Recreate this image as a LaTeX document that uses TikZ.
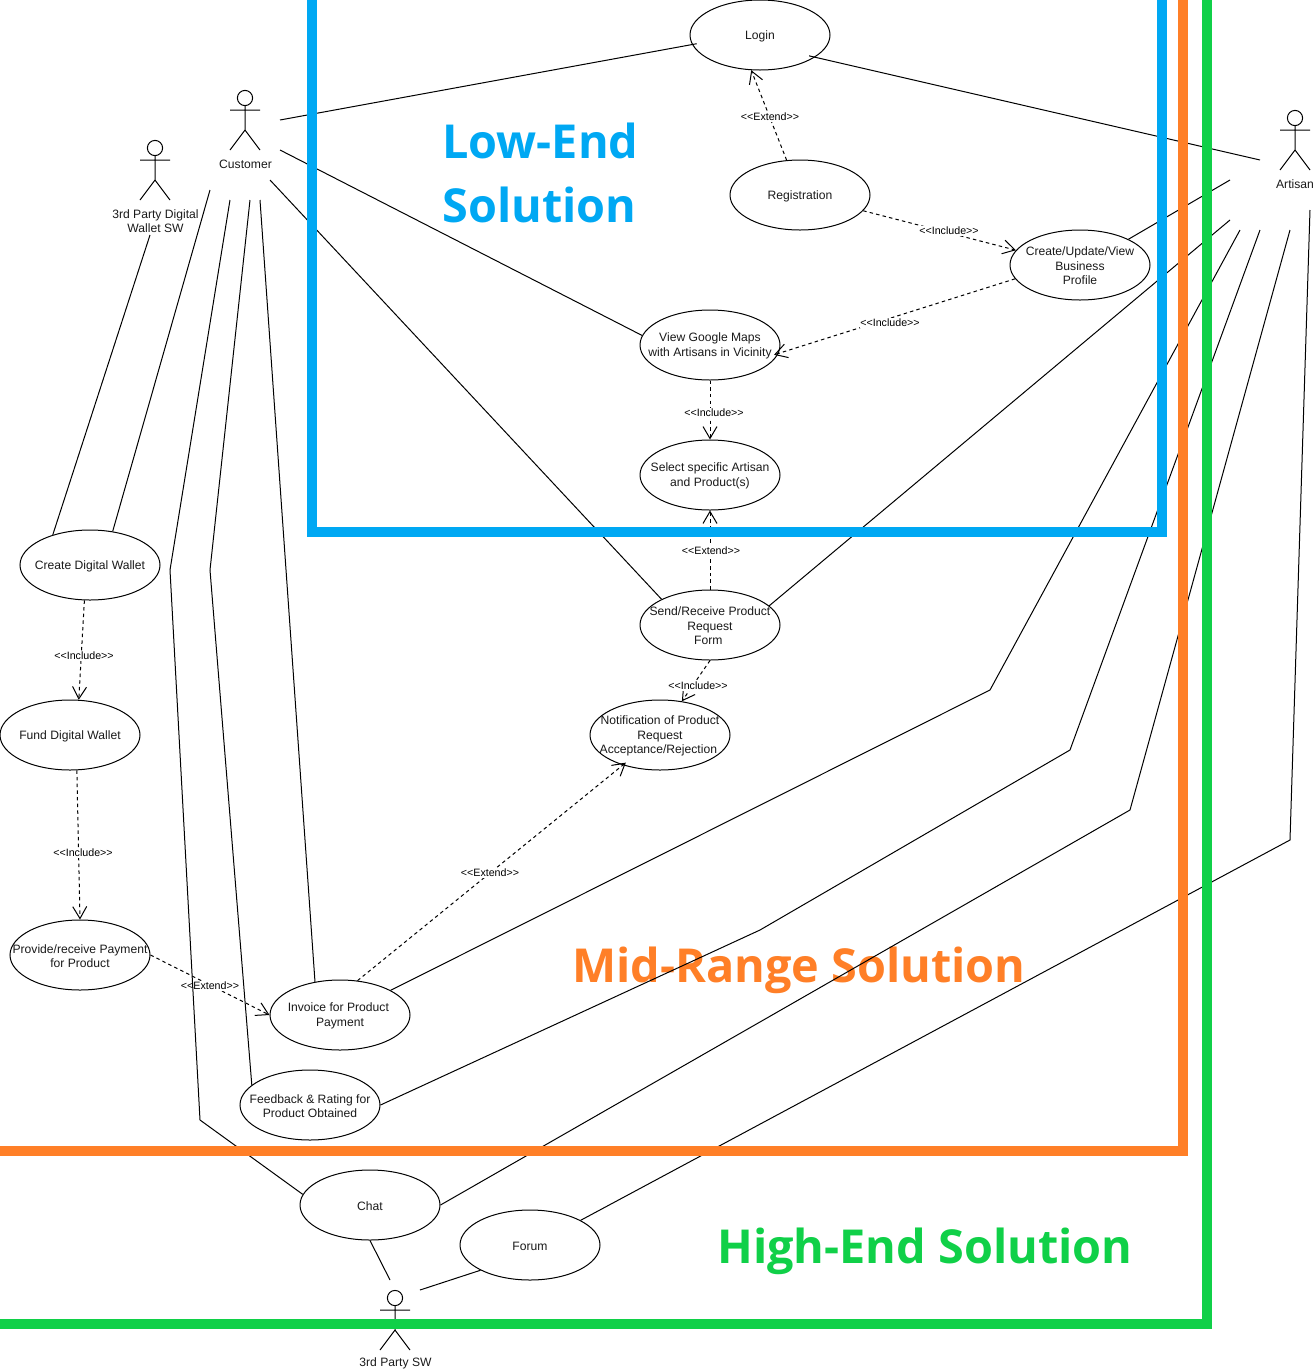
\documentclass[tikz,border=0pt]{standalone}
\usepackage{fontspec}
\setmainfont{Liberation Sans}
\newfontfamily\bigfont{Open Sans}
\usetikzlibrary{arrows.meta,shapes.geometric}
\definecolor{lowc}{HTML}{00A8F3}
\definecolor{midc}{HTML}{FF7F27}
\definecolor{highc}{HTML}{10D048}
\definecolor{txtc}{HTML}{1A1A1A}
\tikzset{
  ucshape/.style={draw=black,ellipse,line width=0.75pt,fill=white,minimum width=105pt,minimum height=52.5pt,inner sep=0pt},
  uctext/.style={align=center,font=\fontsize{9.1}{10.9}\selectfont,text=txtc,inner sep=0pt,yshift=-0.75pt},
  edgelab/.style={font=\fontsize{8}{9}\selectfont,fill=white,inner xsep=0.5pt,inner ysep=0.5pt,text=black,yshift=-0.75pt},
  dep/.style={line width=0.75pt,dash pattern=on 2.6pt off 2.4pt,-{Straight Barb[length=9pt,width=10.5pt,line width=0.75pt]}},
  assoc/.style={line width=0.75pt,line join=miter},
  zone/.style={line width=7.5pt,line join=miter,line cap=butt},
  zonetext/.style={font=\bigfont\bfseries\fontsize{35.1}{40}\selectfont,anchor=west,inner sep=0pt},
  actorlab/.style={align=center,font=\fontsize{9.1}{10.3}\selectfont,text=txtc,inner sep=0pt}
}
\newcommand\uc[3]{\node[ucshape] (#1) at (#2) {}; \node[uctext] (#1t) at (#1) {#3};}
\newcommand\actor[3]{%
  \coordinate (#1top) at (#2,#3);
  \draw[line width=0.75pt] (#2,#3+8) circle[radius=5.7pt];
  \draw[line width=0.75pt] (#2,#3+15.5) -- (#2,#3+40) (#2-15,#3+20) -- (#2+15,#3+20)
     (#2-15,#3+60) -- (#2,#3+40) -- (#2+15,#3+60);
}
\newcommand\incl{<{}<Include>{}>}
\newcommand\extd{<{}<Extend>{}>}
\begin{document}
\begin{tikzpicture}[x=0.75pt,y=-0.75pt]
\useasboundingbox (0,0) rectangle (1314,1372);

% zone titles
\node[zonetext,text=lowc] (tlow1) at (442,141) {Low-End};
\node[zonetext,text=lowc] (tlow2) at (442,205) {Solution};
\node[zonetext,text=midc] (tmid) at (572,970) {Mid-Range Solution};
\node[zonetext,text=highc] (thigh) at (717,1251) {High-End Solution};

% use cases
\uc{login}{760,35}{Login}
\uc{reg}{800,195}{Registration}
\uc{profile}{1080,265}{Create/Update/View\\Business\\Profile}
\uc{maps}{710,345}{View Google Maps\\with Artisans in Vicinity}
\uc{select}{710,475}{Select specific Artisan\\and Product(s)}
\uc{send}{710,625}{Send/Receive Product\\Request\\Form\hspace*{2.5pt}}
\uc{notif}{660,735}{Notification of Product\\Request\\Acceptance/Rejection\hspace*{2.5pt}}
\uc{wallet}{90,565}{Create Digital Wallet}
\uc{fund}{70,735}{Fund Digital Wallet}
\uc{pay}{80,955}{Provide/receive Payment\\for Product}
\uc{invoice}{340,1015}{Invoice for Product\hspace*{2.5pt}\\Payment}
\uc{feedback}{310,1105}{Feedback \& Rating for\\Product Obtained}
\uc{chat}{370,1205}{Chat}
\uc{forum}{530,1245}{Forum}

% actors
\actor{cust}{245}{90}
\actor{art}{1295}{110}
\actor{wsw}{155}{140}
\actor{sw}{395}{1290}
\node[actorlab] (custl) at (245.5,164) {Customer};
\node[actorlab] (artl) at (1295,184) {Artisan};
\node[actorlab] (wswl) at (155.5,221) {3rd Party Digital\\Wallet SW};
\node[actorlab] (swl) at (395.5,1363.5) {3rd Party SW};

% free ends
\coordinate (c1) at (280,120);
\coordinate (c2) at (280,150);
\coordinate (c3) at (270,180);
\coordinate (c4) at (210,190);
\coordinate (c5) at (230,200);
\coordinate (c6) at (250,200);
\coordinate (c7) at (260,200);
\coordinate (w1) at (150,235);
\coordinate (a1) at (1260,160);
\coordinate (a2) at (1230,180);
\coordinate (a3) at (1230,220);
\coordinate (a4) at (1240,230);
\coordinate (a5) at (1260,230);
\coordinate (a6) at (1290,230);
\coordinate (a7) at (1310,210);
\coordinate (s1) at (390,1280);
\coordinate (s2) at (420,1290);
% bends
\coordinate (b1) at (170,570);
\coordinate (b2) at (200,1120);
\coordinate (b3) at (210,570);
\coordinate (b4) at (990,690);
\coordinate (b5) at (1070,750);
\coordinate (b6) at (760,930);
\coordinate (b7) at (1130,810);
\coordinate (b8) at (1290,840);

% dependencies
\draw[dep] (reg.111) -- (login.256);
\draw[dep] (reg.-14) -- (profile.167);
\draw[dep,shorten >=-3.5pt] (profile.192) -- (maps.-7);
\draw[dep] (maps.south) -- (select.north);
\draw[dep] (send.north) -- (select.south);
\draw[dep] (send.south) -- (notif.57);
\draw[dep,shorten >=-3pt] (invoice.63) -- (notif.219);
\draw[dep] (pay.east) -- (invoice.west);
\draw[dep] (wallet.261) -- (fund.76);
\draw[dep] (fund.281) -- (pay.north);

\node[edgelab] (l1) at (770,116) {\extd};
\node[edgelab] (l2) at (949,230) {\incl};
\node[edgelab] (l3) at (890,322) {\incl};
\node[edgelab] (l4) at (714,412) {\incl};
\node[edgelab] (l5) at (711,550) {\extd};
\node[edgelab] (l6) at (698,685) {\incl};
\node[edgelab] (l7) at (490,872) {\extd};
\node[edgelab] (l8) at (210,985) {\extd};
\node[edgelab] (l9) at (84,655) {\incl};
\node[edgelab] (l10) at (83,852) {\incl};

% associations
\draw[assoc,shorten >=-3.5pt] (c1) -- (login.188);
\draw[assoc] (c2) -- (maps.172);
\draw[assoc] (c3) -- (send.152.5);
\draw[assoc] (c4) -- (wallet.56);
\draw[assoc] (c5) -- (b1) -- (b2) -- (chat.171.6);
\draw[assoc] (c6) -- (b3) -- (feedback.161);
\draw[assoc] (c7) -- (invoice.127);
\draw[assoc] (w1) -- (wallet.141.7);
\draw[assoc,shorten <=-4.5pt] (login.-22.6) -- (a1);
\draw[assoc] (a2) -- (profile.28);
\draw[assoc] (a3) -- (send.18);
\draw[assoc] (a4) -- (b4) -- (invoice.26.6);
\draw[assoc] (a5) -- (b5) -- (b6) -- (feedback.east);
\draw[assoc] (a6) -- (b7) -- (chat.east);
\draw[assoc] (a7) -- (b8) -- (forum.26.6);
\draw[assoc] (chat.south) -- (s1);
\draw[assoc] (s2) -- (forum.207.5);

% zones
\draw[zone,draw=lowc] (312,0) -- (312,532) -- (1162,532) -- (1162,0);
\draw[zone,draw=midc] (0,1151) -- (1183,1151) -- (1183,0);
\draw[zone,draw=highc] (0,1324) -- (1207,1324) -- (1207,0);
\end{tikzpicture}
\end{document}
